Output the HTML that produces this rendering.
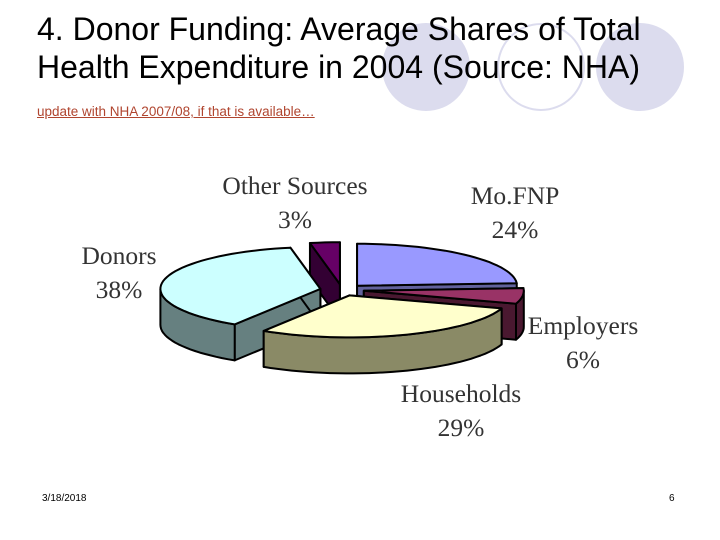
<!DOCTYPE html>
<html><head><meta charset="utf-8">
<style>
body{margin:0;background:#fff;}
#slide{position:relative;width:720px;height:540px;overflow:hidden;background:#fff;font-family:"Liberation Sans",sans-serif;}
.t{position:absolute;left:37px;font-size:32px;color:#000;line-height:38px;white-space:nowrap;}
.lbl{position:absolute;font-family:"Liberation Serif",serif;font-size:25.5px;color:#333;text-align:center;line-height:34px;white-space:nowrap;transform:translateX(-50%);}
</style></head><body>
<div id="slide">
<svg width="720" height="540" style="position:absolute;left:0;top:0">
<circle cx="426" cy="67" r="44" fill="#dcdcee"/>
<circle cx="541" cy="67" r="43" fill="none" stroke="#dcdcee" stroke-width="2"/>
<circle cx="640" cy="67" r="44" fill="#dcdcee"/>
<g id="pie"></g>
</svg>
<div class="t" style="top:10px">4. Donor Funding: Average Shares of Total</div>
<div class="t" style="top:48px">Health Expenditure in 2004 (Source: NHA)</div>
<div style="position:absolute;left:37px;top:104px;font-size:13.5px;color:#b0452f;text-decoration:underline;">update with NHA 2007/08, if that is available…</div>
<div class="lbl" style="left:295px;top:169px">Other Sources<br>3%</div>
<div class="lbl" style="left:515px;top:179px">Mo.FNP<br>24%</div>
<div class="lbl" style="left:119px;top:239px">Donors<br>38%</div>
<div class="lbl" style="left:583px;top:309px">Employers<br>6%</div>
<div class="lbl" style="left:461px;top:377px">Households<br>29%</div>
<div style="position:absolute;left:42px;top:493px;font-size:10px;color:#000">3/18/2018</div>
<div style="position:absolute;left:669px;top:493px;font-size:10px;color:#000">6</div>
</div>
<script>
const categories=["Mo.FNP","Employers","Households","Donors","Other Sources"];
const shares=[24,6,29,38,3];
const topColors=["#9999ff","#993366","#ffffcc","#ccffff","#660066"];
const sideColors=["#62629c","#4a1830","#8a8a66","#668080","#330033"];
const drawOrder=[4,0,1,3,2];
const cx=342,cy=290,rx=160,ry=42,depth=36,explode=22;
const g=document.getElementById('pie');
const total=shares.reduce((a,b)=>a+b,0);
const starts=[];let acc=0;
shares.forEach(v=>{starts.push(acc/total*2*Math.PI);acc+=v;});
function pt(ox,oy,a,dy){return [ox+rx*Math.sin(a),oy-ry*Math.cos(a)+(dy||0)];}
function add(d,fill,name){const p=document.createElementNS('http://www.w3.org/2000/svg','path');p.setAttribute('d',d);p.setAttribute('fill',fill);p.setAttribute('stroke','#000');p.setAttribute('stroke-width','2');p.setAttribute('stroke-linejoin','round');


g.appendChild(p);}
function arc(ox,oy,a0,a1,dy){let s='';const n=Math.max(2,Math.ceil((a1-a0)/0.05));for(let i=0;i<=n;i++){const a=a0+(a1-a0)*i/n;const q=pt(ox,oy,a,dy);s+=(i?'L':'')+q[0].toFixed(1)+' '+q[1].toFixed(1)+' ';}return s;}
drawOrder.forEach(i=>{
  const a0=starts[i],a1=a0+shares[i]/total*2*Math.PI,m=(a0+a1)/2;
  const ox=cx+explode*Math.sin(m),oy=cy-explode*ry/rx*Math.cos(m);
  const slug=categories[i].toLowerCase().replace(/[^a-z]+/g,'-');
  [a0,a1].forEach((a,k)=>{const e=pt(ox,oy,a);
    add(`M${ox} ${oy} L${e[0]} ${e[1]} L${e[0]} ${e[1]+depth} L${ox} ${oy+depth} Z`,sideColors[i],'slice-'+slug+'-edge-'+k);});
  const f0=Math.max(a0,Math.PI/2),f1=Math.min(a1,1.5*Math.PI);
  if(f1>f0){const top=arc(ox,oy,f0,f1,0);let bot='';const n=Math.ceil((f1-f0)/0.05);for(let j=n;j>=0;j--){const a=f0+(f1-f0)*j/n;const q=pt(ox,oy,a,depth);bot+='L'+q[0].toFixed(1)+' '+q[1].toFixed(1)+' ';}
    add('M'+top+bot+'Z',sideColors[i],'slice-'+slug+'-side');}
  add(`M${ox} ${oy} L`+arc(ox,oy,a0,a1,0)+'Z',topColors[i],'slice-'+slug);
});
</script>
</body></html>
